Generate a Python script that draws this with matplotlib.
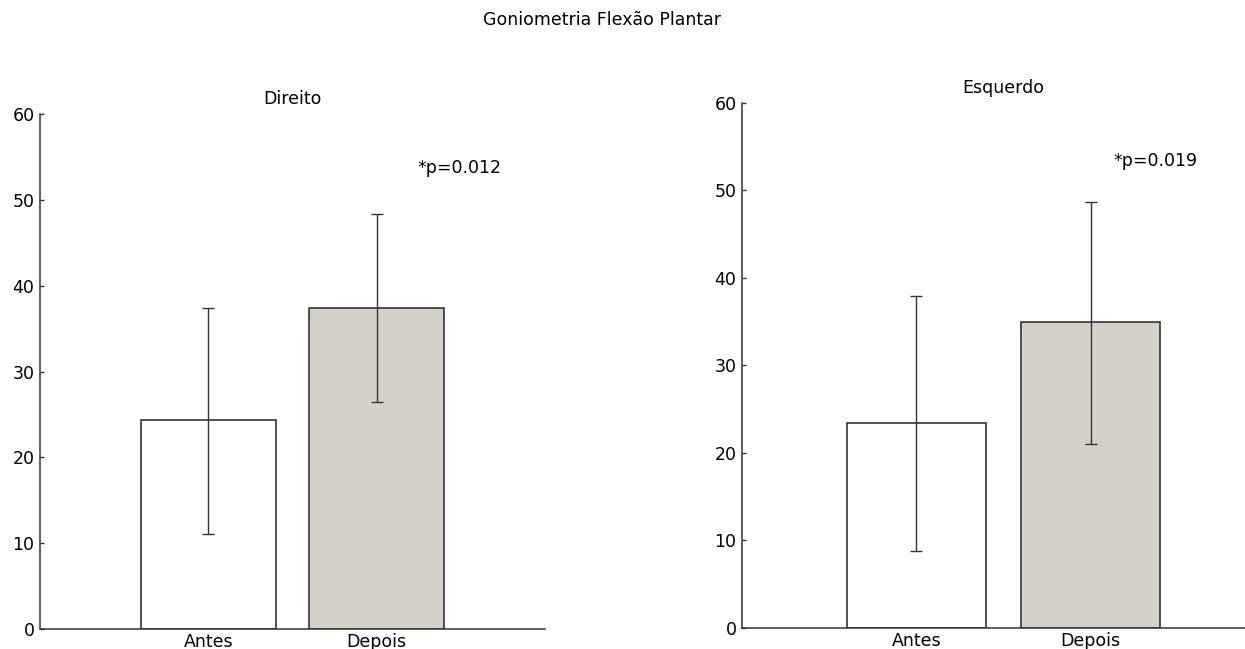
import matplotlib
matplotlib.use("Agg")
import matplotlib.pyplot as plt

plt.rcParams["font.family"] = ["DejaVu Sans"]

GROUPS = ["Antes", "Depois"]

# Direito (right side)
DIR_MEAN = [24.3, 37.4]
DIR_LOW  = [11.1, 26.5]
DIR_HIGH = [37.4, 48.3]
DIR_P    = "*p=0.012"

# Esquerdo (left side)
ESQ_MEAN = [23.4, 35.0]
ESQ_LOW  = [8.8, 21.0]
ESQ_HIGH = [37.9, 48.7]
ESQ_P    = "*p=0.019"

BAR_COLORS = ["#ffffff", "#d4d2c8"]
EDGE = "#333333"
FS = 12.5


def panel(ax, title, means, lows, highs, ptxt, px, py):
    xs = [1, 2]
    ax.bar(xs, means, width=0.8, color=BAR_COLORS, edgecolor=EDGE, linewidth=1.2, zorder=2)
    yerr = [[m - lo for m, lo in zip(means, lows)],
            [hi - m for m, hi in zip(means, highs)]]
    ax.errorbar(xs, means, yerr=yerr, fmt="none", ecolor=EDGE, elinewidth=1.0,
                capsize=4.5, capthick=1.0, zorder=3)
    ax.set_xlim(0, 3)
    ax.set_ylim(0, 60)
    ax.set_yticks(range(0, 61, 10))
    ax.set_xticks(xs)
    ax.set_xticklabels(GROUPS, fontsize=FS)
    ax.tick_params(axis="x", length=0, pad=3)
    ax.tick_params(axis="y", direction="in", length=3, width=1, pad=4,
                   labelsize=FS, color=EDGE)
    for side in ("top", "right"):
        ax.spines[side].set_visible(False)
    for side in ("left", "bottom"):
        ax.spines[side].set_color(EDGE)
        ax.spines[side].set_linewidth(1.1)
    ax.set_title(title, fontsize=FS, pad=7)
    ax.text(px, py, ptxt, fontsize=FS, ha="left", va="center")


fig = plt.figure(figsize=(12.45, 6.49), dpi=100)
fig.patch.set_facecolor("white")

ax1 = fig.add_axes([0.0321, 0.0308, 0.4056, 0.7935])
ax2 = fig.add_axes([0.596, 0.0324, 0.420, 0.809])

panel(ax1, "Direito", DIR_MEAN, DIR_LOW, DIR_HIGH, DIR_P, 2.24, 53.7)
panel(ax2, "Esquerdo", ESQ_MEAN, ESQ_LOW, ESQ_HIGH, ESQ_P, 2.13, 53.4)

fig.text(0.4835, 0.969, "Goniometria Flexão Plantar", fontsize=FS,
         ha="center", va="center")

fig.savefig("out.png", dpi=100, facecolor="white")
plt.close(fig)
